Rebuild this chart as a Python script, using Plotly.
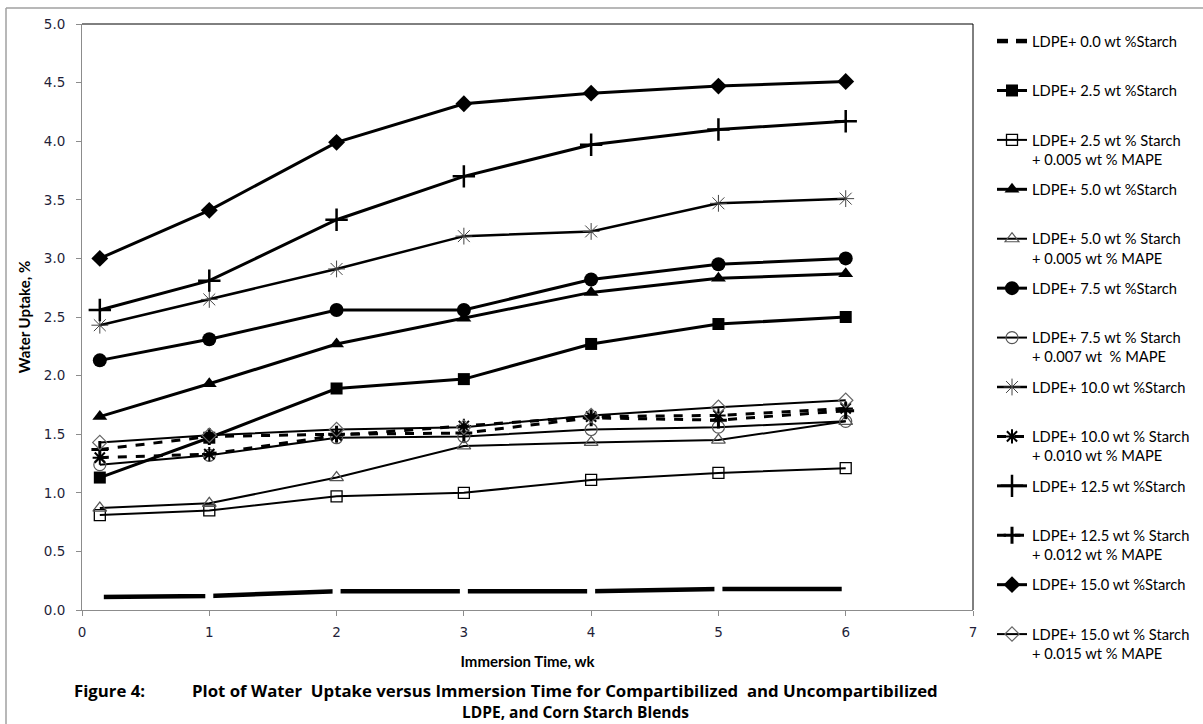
import plotly.graph_objects as go

# ---- data ----
weeks = [0.14, 1, 2, 3, 4, 5, 6]

series_names = [
    "LDPE+ 0.0 wt %Starch",
    "LDPE+ 2.5 wt %Starch",
    "LDPE+ 2.5 wt % Starch<br>+ 0.005 wt % MAPE",
    "LDPE+ 5.0 wt %Starch",
    "LDPE+ 5.0 wt % Starch<br>+ 0.005 wt % MAPE",
    "LDPE+ 7.5 wt %Starch",
    "LDPE+ 7.5 wt % Starch<br>+ 0.007 wt  % MAPE",
    "LDPE+ 10.0 wt %Starch",
    "LDPE+ 10.0 wt % Starch<br>+ 0.010 wt % MAPE",
    "LDPE+ 12.5 wt %Starch",
    "LDPE+ 12.5 wt % Starch<br>+ 0.012 wt % MAPE",
    "LDPE+ 15.0 wt %Starch",
    "LDPE+ 15.0 wt % Starch<br>+ 0.015 wt % MAPE",
]

s00 = [0.11, 0.12, 0.16, 0.16, 0.16, 0.18, 0.18]
s25 = [1.13, 1.47, 1.89, 1.97, 2.27, 2.44, 2.50]
s25m = [0.81, 0.85, 0.97, 1.00, 1.11, 1.17, 1.21]
s50 = [1.65, 1.93, 2.27, 2.49, 2.71, 2.83, 2.87]
s50m = [0.87, 0.91, 1.13, 1.40, 1.43, 1.45, 1.61]
s75 = [2.13, 2.31, 2.56, 2.56, 2.82, 2.95, 3.00]
s75m = [1.24, 1.32, 1.47, 1.48, 1.54, 1.56, 1.61]
s100 = [2.43, 2.65, 2.91, 3.19, 3.23, 3.47, 3.51]
s100m = [1.30, 1.33, 1.49, 1.57, 1.65, 1.66, 1.72]
s125 = [2.56, 2.81, 3.33, 3.70, 3.97, 4.10, 4.17]
s125m = [1.37, 1.48, 1.50, 1.51, 1.64, 1.62, 1.70]
s150 = [3.00, 3.41, 3.99, 4.32, 4.41, 4.47, 4.51]
s150m = [1.43, 1.49, 1.54, 1.56, 1.66, 1.73, 1.79]

values = [s00, s25, s25m, s50, s50m, s75, s75m, s100, s100m, s125, s125m, s150, s150m]

x_ticks = [0, 1, 2, 3, 4, 5, 6, 7]
y_ticks = [0.0, 0.5, 1.0, 1.5, 2.0, 2.5, 3.0, 3.5, 4.0, 4.5, 5.0]

# ---- styles ----
styles = [
    dict(line=dict(color="black", width=4.5), marker=dict(symbol="square", size=8, color="white", line=dict(width=0))),
    dict(line=dict(color="black", width=3), marker=dict(symbol="square", size=12, color="black")),
    dict(line=dict(color="black", width=2), marker=dict(symbol="square-open", size=11, color="black", line=dict(width=1.3))),
    dict(line=dict(color="black", width=3), marker=dict(symbol="triangle-up", size=13, color="black")),
    dict(line=dict(color="black", width=2), marker=dict(symbol="triangle-up-open", size=12, color="#555555", line=dict(width=1.2))),
    dict(line=dict(color="black", width=3), marker=dict(symbol="circle", size=14, color="black")),
    dict(line=dict(color="black", width=2), marker=dict(symbol="circle-open", size=12, color="#555555", line=dict(width=1.2))),
    dict(line=dict(color="black", width=2.5), marker=dict(symbol="asterisk-open", size=14, color="#444444", line=dict(width=1))),
    dict(line=dict(color="black", width=3, dash="dash"), marker=dict(symbol="asterisk-open", size=12, color="black", line=dict(width=2))),
    dict(line=dict(color="black", width=3), marker=dict(symbol="cross-thin-open", size=16, color="black", line=dict(width=2.5))),
    dict(line=dict(color="black", width=3, dash="dash"), marker=dict(symbol="cross-thin-open", size=12, color="black", line=dict(width=3))),
    dict(line=dict(color="black", width=3), marker=dict(symbol="diamond", size=13, color="black")),
    dict(line=dict(color="black", width=2), marker=dict(symbol="diamond-open", size=11, color="#666666", line=dict(width=1.2))),
]

fig = go.Figure()
for i, (name, vals, st) in enumerate(zip(series_names, values, styles)):
    label = name if "<br>" in name else name + "<br> "
    fig.add_trace(go.Scatter(
        x=weeks, y=vals, mode="lines+markers", name=label,
        legendgroup=f"g{i}", line=st["line"], marker=st["marker"],
    ))

W, H = 1203, 724
L, R, T, B = 82, 973, 24, 610


def px(xp):
    return (xp - L) / (R - L)


def py(yp):
    return (B - yp) / (B - T)


cap_font = dict(family="Open Sans, sans-serif", size=16.8, color="black")
cap_font2 = dict(family="Open Sans, sans-serif", size=15.5, color="black")

fig.update_layout(
    width=W, height=H,
    margin=dict(l=L, r=W - R, t=T, b=H - B, autoexpand=False),
    paper_bgcolor="white", plot_bgcolor="white",
    font=dict(family="Lato, sans-serif", color="black"),
    showlegend=True,
    legend=dict(
        xref="container", yref="container",
        x=992 / W, y=1 - 25 / H, xanchor="left", yanchor="top",
        valign="top", tracegroupgap=8.2, maxheight=720,
        font=dict(family="Lato, sans-serif", size=14.7, color="black"),
        bgcolor="rgba(0,0,0,0)", borderwidth=0,
    ),
    xaxis=dict(
        range=[0, 7], tickvals=x_ticks, ticktext=[str(v) for v in x_ticks],
        showgrid=False, zeroline=False, showline=True, linecolor="#8c8c8c", linewidth=1,
        ticks="outside", ticklen=5, tickcolor="#8c8c8c", ticklabelstandoff=5,
        tickfont=dict(family="DejaVu Sans, sans-serif", size=13.5, color="#1f1f3a"),
        title=dict(text="<b>Immersion Time, wk</b>", font=dict(family="Lato, sans-serif", size=15, color="black"), standoff=17),
    ),
    yaxis=dict(
        range=[0, 5], tickvals=y_ticks, ticktext=[f"{v:.1f}" for v in y_ticks],
        showgrid=False, zeroline=False, showline=True, linecolor="#8c8c8c", linewidth=1,
        ticks="outside", ticklen=5, tickcolor="#8c8c8c", ticklabelstandoff=8,
        tickfont=dict(family="DejaVu Sans, sans-serif", size=13.5, color="#1f1f3a"),
        title=dict(text="<b>Water Uptake, %</b>", font=dict(family="Lato, sans-serif", size=15, color="black"), standoff=9),
    ),
    shapes=[
        dict(type="line", xref="paper", yref="paper", x0=0, x1=1, y0=1, y1=1, line=dict(color="black", width=1)),
        dict(type="line", xref="paper", yref="paper", x0=1, x1=1, y0=0, y1=1, line=dict(color="black", width=1)),
        dict(type="line", xref="paper", yref="paper", x0=px(6), x1=px(1210), y0=py(8), y1=py(8),
             line=dict(color="#a0a0a0", width=1.5)),
        dict(type="line", xref="paper", yref="paper", x0=px(6), x1=px(6), y0=py(8), y1=py(740),
             line=dict(color="#a0a0a0", width=1.5)),
    ],
    annotations=[
        dict(text="<b>Figure 4:</b>", xref="paper", yref="paper", x=px(72), y=py(690),
             xanchor="left", yanchor="middle", showarrow=False, font=cap_font),
        dict(text="<b>Plot of Water  Uptake versus Immersion Time for Compartibilized  and Uncompartibilized</b>",
             xref="paper", yref="paper", x=px(190), y=py(690),
             xanchor="left", yanchor="middle", showarrow=False, font=cap_font),
        dict(text="<b>LDPE, and Corn Starch Blends</b>", xref="paper", yref="paper",
             x=px(575), y=py(712), xanchor="center", yanchor="middle", showarrow=False, font=cap_font2),
    ],
)

fig.write_html("out.html", config={"displayModeBar": False},
               post_script="document.body.style.margin='0px';")
